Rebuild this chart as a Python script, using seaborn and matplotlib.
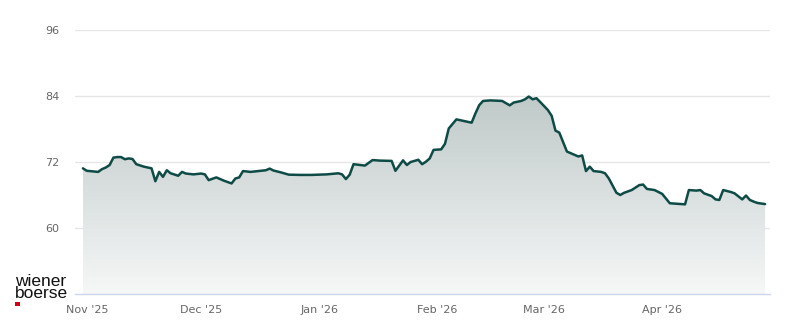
import numpy as np
import pandas as pd
import matplotlib
matplotlib.use("Agg")
import matplotlib.pyplot as plt
import matplotlib.dates as mdates
from matplotlib.colors import LinearSegmentedColormap
import seaborn as sns

dates = [
    "2025-10-31", "2025-11-01", "2025-11-04", "2025-11-05", "2025-11-06", "2025-11-07",
    "2025-11-08", "2025-11-09", "2025-11-10", "2025-11-11", "2025-11-12", "2025-11-13",
    "2025-11-14", "2025-11-16", "2025-11-18", "2025-11-19", "2025-11-20", "2025-11-21",
    "2025-11-22", "2025-11-23", "2025-11-25", "2025-11-26", "2025-11-27", "2025-11-29",
    "2025-12-01", "2025-12-02", "2025-12-03", "2025-12-05", "2025-12-07", "2025-12-09",
    "2025-12-10", "2025-12-11", "2025-12-12", "2025-12-14", "2025-12-16", "2025-12-18",
    "2025-12-19", "2025-12-20", "2025-12-22", "2025-12-24", "2025-12-27", "2025-12-30",
    "2026-01-03", "2026-01-06", "2026-01-07", "2026-01-08", "2026-01-09", "2026-01-10",
    "2026-01-13", "2026-01-15", "2026-01-17", "2026-01-20", "2026-01-21", "2026-01-22",
    "2026-01-23", "2026-01-24", "2026-01-25", "2026-01-27", "2026-01-28", "2026-01-29",
    "2026-01-30", "2026-01-31", "2026-02-02", "2026-02-03", "2026-02-04", "2026-02-06",
    "2026-02-10", "2026-02-11", "2026-02-12", "2026-02-13", "2026-02-15", "2026-02-18",
    "2026-02-20", "2026-02-21", "2026-02-23", "2026-02-24", "2026-02-25", "2026-02-26",
    "2026-02-27", "2026-02-28", "2026-03-02", "2026-03-03", "2026-03-04", "2026-03-05",
    "2026-03-07", "2026-03-10", "2026-03-11", "2026-03-12", "2026-03-13", "2026-03-14",
    "2026-03-16", "2026-03-17", "2026-03-18", "2026-03-20", "2026-03-21", "2026-03-22",
    "2026-03-24", "2026-03-26", "2026-03-27", "2026-03-28", "2026-03-30", "2026-04-01",
    "2026-04-03", "2026-04-07", "2026-04-08", "2026-04-10", "2026-04-11", "2026-04-12",
    "2026-04-14", "2026-04-15", "2026-04-16", "2026-04-17", "2026-04-19", "2026-04-20",
    "2026-04-22", "2026-04-23", "2026-04-24", "2026-04-25", "2026-04-26", "2026-04-28",
]
prices = [
    70.85, 70.4, 70.2, 70.7, 71.0, 71.45,
    72.8, 72.9, 72.9, 72.5, 72.65, 72.55,
    71.6, 71.15, 70.85, 68.5, 70.2, 69.3,
    70.5, 69.95, 69.5, 70.2, 69.9, 69.75,
    69.9, 69.75, 68.7, 69.2, 68.6, 68.1,
    69.0, 69.2, 70.35, 70.2, 70.35, 70.5,
    70.8, 70.45, 70.1, 69.7, 69.65, 69.65,
    69.75, 69.95, 69.75, 68.9, 69.7, 71.6,
    71.35, 72.35, 72.25, 72.2, 70.4, 71.35,
    72.3, 71.45, 72.0, 72.4, 71.6, 72.05,
    72.65, 74.2, 74.3, 75.3, 78.1, 79.75,
    79.15, 80.85, 82.35, 83.1, 83.2, 83.1,
    82.3, 82.8, 83.1, 83.4, 83.9, 83.4,
    83.6, 82.9, 81.45, 80.4, 77.7, 77.35,
    73.9, 73.0, 73.2, 70.35, 71.15, 70.35,
    70.2, 69.95, 69.0, 66.4, 66.0, 66.4,
    66.9, 67.8, 67.9, 67.1, 66.9, 66.2,
    64.5, 64.3, 66.9, 66.8, 66.9, 66.3,
    65.8, 65.2, 65.1, 66.9, 66.55, 66.3,
    65.2, 65.9, 65.1, 64.8, 64.55, 64.35,
]
y_ticks = [60, 72, 84, 96]
x_tick_dates = ["2025-11-01", "2025-12-01", "2026-01-01", "2026-02-01", "2026-03-01", "2026-04-01"]
x_tick_labels = ["Nov '25", "Dec '25", "Jan '26", "Feb '26", "Mar '26", "Apr '26"]
logo_text = "wiener\nboerse"

df = pd.DataFrame({"date": pd.to_datetime(dates), "price": prices})

sns.set_style("white")
plt.rcParams["font.family"] = ["DejaVu Sans"]

fig = plt.figure(figsize=(8.0, 3.24), dpi=100)
ax = fig.add_axes([75 / 800, 30 / 324, 695 / 800, 264 / 324])

y_lo, y_hi = 48, 96
x_lo = pd.Timestamp("2025-11-01") - pd.Timedelta(hours=74)
x_hi = pd.Timestamp("2025-11-01") + pd.Timedelta(hours=4303)
ax.set_xlim(x_lo, x_hi)
ax.set_ylim(y_lo, y_hi)

# gradient fill under the line
xn = mdates.date2num(df["date"])
poly = ax.fill_between(df["date"], df["price"], y_lo, color="none", lw=0)
cmap = LinearSegmentedColormap.from_list("g", ["#f6f7f7", "#bcc7c6"])
grad = np.linspace(0, 1, 256).reshape(-1, 1)
im = ax.imshow(grad, cmap=cmap, aspect="auto", origin="lower",
               extent=[xn.min(), xn.max(), y_lo, 86], zorder=1)
im.set_clip_path(poly.get_paths()[0], transform=ax.transData)

for yt in y_ticks:
    ax.axhline(yt, color="#e6e6e6", lw=1, zorder=0.5)

sns.lineplot(data=df, x="date", y="price", ax=ax, color="#0f4b46", lw=1.8, zorder=3)

ax.set_xlabel("")
ax.set_ylabel("")
for s in ["top", "right", "left"]:
    ax.spines[s].set_visible(False)
ax.spines["bottom"].set_color("#ccd6eb")
ax.spines["bottom"].set_linewidth(1)

ax.set_yticks(y_ticks)
ax.set_yticklabels([str(v) for v in y_ticks])
ax.tick_params(axis="y", length=0, pad=11, labelsize=8, labelcolor="#666666")
ax.set_xticks(pd.to_datetime(x_tick_dates))
ax.set_xticklabels(x_tick_labels)
ax.tick_params(axis="x", length=9, width=1, color="#ccd6eb", pad=-1,
               labelsize=8, labelcolor="#666666")

fig.text(15 / 800, 1 - 274 / 324, logo_text, fontsize=12.5, color="#111111",
         family=["Liberation Sans", "DejaVu Sans"], va="top", ha="left",
         linespacing=0.78)
fig.patches.append(plt.Rectangle((15 / 800, 1 - 306 / 324), 4.5 / 800, 4.5 / 324,
                                 transform=fig.transFigure, color="#d0021b", lw=0))

fig.savefig("out.png", dpi=100)
